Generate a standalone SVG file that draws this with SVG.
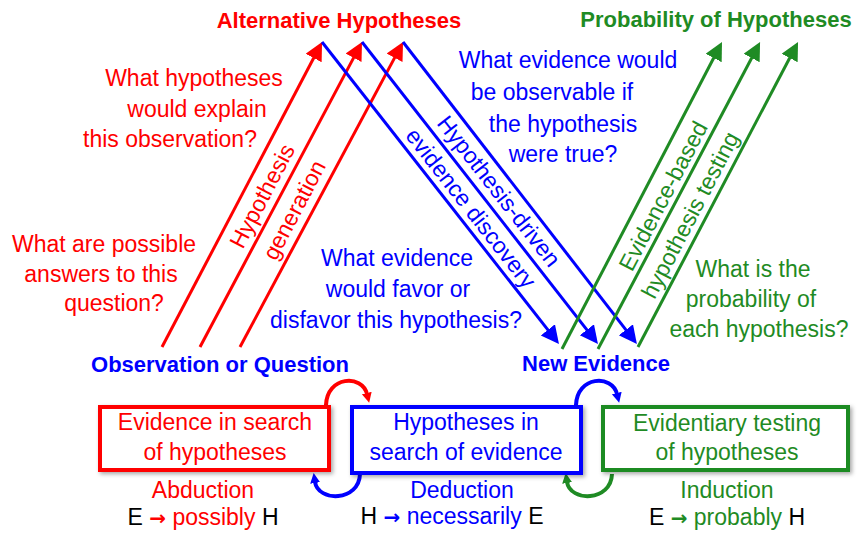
<svg xmlns="http://www.w3.org/2000/svg" width="857" height="533" viewBox="0 0 857 533">
<style>
text{font-family:"Liberation Sans",Arial,sans-serif;font-size:23px;}
.b{font-weight:bold;font-size:22px;}
.m{text-anchor:middle;}
.r{fill:#FF0000;} .u{fill:#0000FF;} .g{fill:#1F8B24;} .k{fill:#000;}
.ar{font-family:"DejaVu Sans",sans-serif;font-weight:bold;font-size:20px;}
.lr{stroke:#FF0000;stroke-width:3;fill:none;}
.lu{stroke:#0000FF;stroke-width:3;fill:none;}
.lg{stroke:#1F8B24;stroke-width:3;fill:none;}
.box{fill:#fff;stroke-width:4;filter:url(#sh);}
.arc{fill:none;stroke-width:4;}
</style>
<defs>
<filter id="sh" x="-10%" y="-20%" width="120%" height="150%">
<feDropShadow dx="2" dy="2" stdDeviation="2" flood-color="#000" flood-opacity="0.35"/>
</filter>
<marker id="ar" markerUnits="userSpaceOnUse" markerWidth="20" markerHeight="20" refX="2" refY="9" orient="auto"><path d="M0,0 L18,9 L0,18 z" fill="#FF0000"/></marker>
<marker id="au" markerUnits="userSpaceOnUse" markerWidth="20" markerHeight="20" refX="2" refY="9" orient="auto"><path d="M0,0 L18,9 L0,18 z" fill="#0000FF"/></marker>
<marker id="ag" markerUnits="userSpaceOnUse" markerWidth="20" markerHeight="20" refX="2" refY="9" orient="auto"><path d="M0,0 L18,9 L0,18 z" fill="#1F8B24"/></marker>
<marker id="sr" markerUnits="userSpaceOnUse" markerWidth="12" markerHeight="12" refX="1" refY="5" orient="auto"><path d="M0,0 L10,5 L0,10 z" fill="#FF0000"/></marker>
<marker id="su" markerUnits="userSpaceOnUse" markerWidth="12" markerHeight="12" refX="1" refY="5" orient="auto"><path d="M0,0 L10,5 L0,10 z" fill="#0000FF"/></marker>
<marker id="sg" markerUnits="userSpaceOnUse" markerWidth="12" markerHeight="12" refX="1" refY="5" orient="auto"><path d="M0,0 L10,5 L0,10 z" fill="#1F8B24"/></marker>
</defs>
<rect width="857" height="533" fill="#fff"/>

<g id="connectors">
<line class="lr" x1="162" y1="347" x2="314.6" y2="56.2" marker-end="url(#ar)"/>
<line class="lr" x1="200" y1="347" x2="354.5" y2="56.1" marker-end="url(#ar)"/>
<line class="lr" x1="240" y1="347" x2="395.5" y2="56.1" marker-end="url(#ar)"/>
<line class="lu" x1="322" y1="42" x2="549.1" y2="331.4" marker-end="url(#au)"/>
<line class="lu" x1="362" y1="42" x2="588.1" y2="331.4" marker-end="url(#au)"/>
<line class="lu" x1="403" y1="42" x2="627.1" y2="331.4" marker-end="url(#au)"/>
<line class="lg" x1="562" y1="349" x2="714.6" y2="56.2" marker-end="url(#ag)"/>
<line class="lg" x1="598" y1="349" x2="752.6" y2="56.2" marker-end="url(#ag)"/>
<line class="lg" x1="638" y1="347" x2="790.6" y2="56.2" marker-end="url(#ag)"/>
<path class="arc" stroke="#FF0000" d="M326,405 C327,376 362,374 367,394" marker-end="url(#sr)"/>
<path class="arc" stroke="#0000FF" d="M360,474 C359,502 318,502 315,482" marker-end="url(#su)"/>
<path class="arc" stroke="#0000FF" d="M576,405 C577,376 612,374 617,394" marker-end="url(#su)"/>
<path class="arc" stroke="#1F8B24" d="M612,474 C611,502 570,502 567,482" marker-end="url(#sg)"/>
</g>

<g id="alt-hyp"><text class="b m r" x="339" y="28">Alternative Hypotheses</text></g>
<g id="prob-hyp"><text class="b m g" x="716" y="27">Probability of Hypotheses</text></g>
<g id="obs"><text class="b m u" x="220" y="372">Observation or Question</text></g>
<g id="new-ev"><text class="b m u" x="596" y="371">New Evidence</text></g>

<g id="q-red-top" class="r m">
<text x="194" y="86">What hypotheses</text>
<text x="197" y="117">would explain</text>
<text x="170" y="147">this observation?</text>
</g>
<g id="q-red-bottom" class="r m">
<text x="104" y="252">What are possible</text>
<text x="101" y="282">answers to this</text>
<text x="114" y="311">question?</text>
</g>
<g id="q-blue-bottom" class="u m">
<text x="397" y="266">What evidence</text>
<text x="398" y="297">would favor or</text>
<text x="396" y="328">disfavor this hypothesis?</text>
</g>
<g id="q-blue-top" class="u m">
<text x="568" y="68">What evidence would</text>
<text x="552" y="100">be observable if</text>
<text x="563" y="132">the hypothesis</text>
<text x="563" y="162">were true?</text>
</g>
<g id="q-green" class="g m">
<text x="753" y="277">What is the</text>
<text x="751" y="307">probability of</text>
<text x="759" y="337">each hypothesis?</text>
</g>

<g id="lbl-generation" class="r m">
<text transform="translate(262,196) rotate(-62.3)" dy="0.35em">Hypothesis</text>
<text transform="translate(294,210) rotate(-62.3)" dy="0.35em">generation</text>
</g>
<g id="lbl-discovery" class="u m">
<text transform="translate(499,191) rotate(52)" dy="0.35em">Hypothesis-driven</text>
<text transform="translate(471,208) rotate(52)" dy="0.35em">evidence discovery</text>
</g>
<g id="lbl-testing" class="g m">
<text transform="translate(663,196) rotate(-62.4)" dy="0.35em">Evidence-based</text>
<text transform="translate(690,215) rotate(-62.4)" dy="0.35em">hypothesis testing</text>
</g>

<g id="box-abduction">
<rect class="box" stroke="#FF0000" x="100" y="407" width="229" height="63"/>
<text class="r m" x="215" y="430">Evidence in search</text>
<text class="r m" x="215" y="460">of hypotheses</text>
<text class="r m" x="203" y="498">Abduction</text>
<text class="m" x="203" y="525"><tspan class="k">E </tspan><tspan class="r ar">→</tspan><tspan class="r"> possibly </tspan><tspan class="k">H</tspan></text>
</g>
<g id="box-deduction">
<rect class="box" stroke="#0000FF" x="352" y="407" width="229" height="66"/>
<text class="u m" x="466" y="430">Hypotheses in</text>
<text class="u m" x="466" y="460">search of evidence</text>
<text class="u m" x="462" y="498">Deduction</text>
<text class="m" x="452" y="524"><tspan class="k">H </tspan><tspan class="u ar">→</tspan><tspan class="u"> necessarily </tspan><tspan class="k">E</tspan></text>
</g>
<g id="box-induction">
<rect class="box" stroke="#1F8B24" x="603" y="407" width="245" height="63"/>
<text class="g m" x="727" y="431">Evidentiary testing</text>
<text class="g m" x="727" y="460">of hypotheses</text>
<text class="g m" x="727" y="498">Induction</text>
<text class="m" x="727" y="525"><tspan class="k">E </tspan><tspan class="g ar">→</tspan><tspan class="g"> probably </tspan><tspan class="k">H</tspan></text>
</g>
</svg>
